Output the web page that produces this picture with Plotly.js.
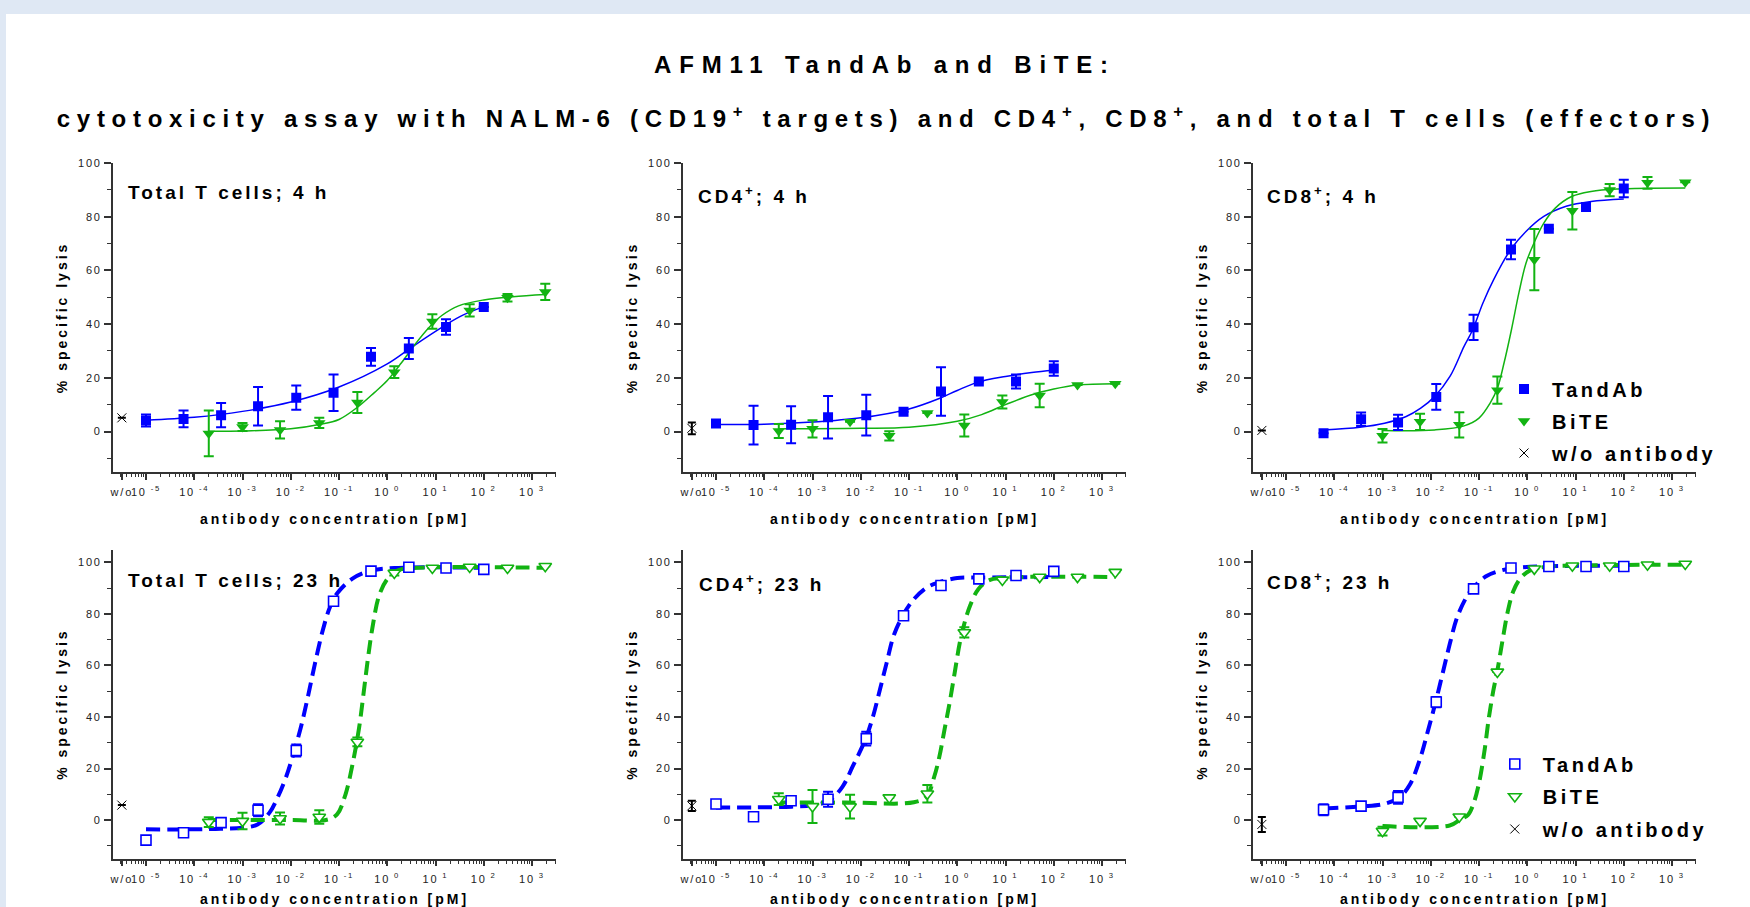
<!DOCTYPE html>
<html><head><meta charset="utf-8">
<script src="https://cdn.plot.ly/plotly-3.0.1.min.js"></script>
<style>
html,body{margin:0;padding:0;background:#fff;}
#chart{width:1750px;height:907px;}
.gtitle{letter-spacing:7.8px;}
.annotation-text{letter-spacing:3px;}
.annotation[data-index="0"] .annotation-text{letter-spacing:6.7px;}
.legendtext,.legend2text{letter-spacing:3.5px;}
g[class$="tick"] text{letter-spacing:1.8px;}
text[class$="title"]:not(.gtitle){letter-spacing:3px;}
</style></head>
<body><div id="chart"></div>
<script>
// ---------------- data ----------------
const concTandAb = [1e-5, 6e-5, 3.6e-4, 2.1e-3, 0.013, 0.077, 0.46, 2.8, 16.5, 100];
const concBiTE = [2e-4, 1e-3, 6e-3, 0.039, 0.24, 1.4, 8.6, 51, 310, 1880];
const concTandAbCD8 = [6e-5, 3.6e-4, 2.1e-3, 0.013, 0.077, 0.46, 2.8, 16.5, 100];
const concBiTECD8 = [1e-3, 6e-3, 0.039, 0.24, 1.4, 8.6, 51, 310, 1880];
const concWo = [3.16e-6];

const xTickVals = [3.16e-6, 1e-5, 1e-4, 1e-3, 1e-2, 1e-1, 1, 10, 100, 1000];
const xTickText = ['w/o', '10<sup> -5</sup>', '10<sup> -4</sup>', '10<sup> -3</sup>', '10<sup> -2</sup>', '10<sup> -1</sup>', '10<sup> 0</sup>', '10<sup> 1</sup>', '10<sup> 2</sup>', '10<sup> 3</sup>'];
const yTickVals = [0, 20, 40, 60, 80, 100];
const yMinorVals = [-10, 10, 30, 50, 70, 90];

const panelLabels = ['Total T cells; 4 h', 'CD4<sup>+</sup>; 4 h', 'CD8<sup>+</sup>; 4 h',
                     'Total T cells; 23 h', 'CD4<sup>+</sup>; 23 h', 'CD8<sup>+</sup>; 23 h'];
const seriesNames = ['TandAb', 'BiTE', 'w/o antibody'];

// Total T cells, 4 h
const tot4TandAb = [4.1, 4.7, 6.1, 9.4, 12.6, 14.4, 27.8, 30.9, 38.9, 46.4];
const tot4TandAbErr = [2.2, 3.1, 4.5, 7.2, 4.5, 6.8, 3.3, 3.9, 2.9, 0];
const tot4BiTE = [-0.7, 1.7, 0.6, 3.2, 10.8, 22.1, 41.0, 45.1, 49.8, 52.0];
const tot4BiTEErr = [8.5, 1.5, 3.2, 1.9, 3.9, 2.2, 2.7, 2.3, 1.4, 3.0];
const tot4Wo = [5.1], tot4WoErr = [0];
const tot4TandAbFitX = [1e-5, 1e-4, 1e-3, 1e-2, 0.1, 1, 3.2, 10, 32, 100];
const tot4TandAbFitY = [4.2, 5.3, 7.5, 11.0, 16.6, 25.2, 31.4, 37.3, 42.8, 46.5];
const tot4BiTEFitX = [2e-4, 1e-3, 1e-2, 0.039, 0.1, 0.24, 0.54, 1, 1.95, 3.7, 7.1, 13.5, 30, 100, 400, 1880];
const tot4BiTEFitY = [0.1, 0.2, 1.0, 2.6, 4.5, 9.0, 14.5, 19.0, 25.5, 32.3, 38.5, 43.2, 46.8, 49.0, 50.2, 51.0];

// CD4+, 4 h
const cd4h4TandAb = [3.0, 2.4, 2.5, 5.3, 6.1, 7.4, 14.9, 18.6, 18.6, 23.5];
const cd4h4TandAbErr = [0, 7.2, 6.9, 7.9, 7.6, 0, 9.0, 0, 2.6, 2.7];
const cd4h4BiTE = [0.2, 1.0, 3.6, -1.6, 6.9, 2.2, 11.0, 13.4, 17.3, 17.8];
const cd4h4BiTEErr = [2.6, 3.2, 0, 1.7, 0, 4.1, 2.4, 4.4, 0, 0];
const cd4h4Wo = [1.2], cd4h4WoErr = [2.2];
const cd4h4TandAbFitX = [1e-5, 1e-4, 1e-3, 1e-2, 0.1, 0.45, 1, 2.7, 10, 35, 100];
const cd4h4TandAbFitY = [2.6, 2.7, 3.5, 5.1, 8.4, 12.5, 15.3, 18.4, 20.5, 22.0, 22.8];
const cd4h4BiTEFitX = [2e-4, 1e-3, 1e-2, 0.1, 1, 3.2, 10, 35, 100, 310, 1880];
const cd4h4BiTEFitY = [1.0, 1.0, 1.2, 1.6, 3.8, 6.3, 10.0, 13.7, 15.8, 17.3, 17.8];

// CD8+, 4 h
const cd8h4TandAb = [-0.6, 4.6, 3.4, 12.9, 38.8, 67.8, 75.5, 83.6, 90.5];
const cd8h4TandAbErr = [0, 2.5, 2.8, 4.8, 4.7, 3.6, 0, 0, 3.3];
const cd8h4BiTE = [-1.6, 3.6, 2.5, 15.4, 64.0, 82.2, 89.9, 92.6, 92.8];
const cd8h4BiTEErr = [2.5, 3.0, 4.7, 5.1, 11.4, 7.0, 2.3, 2.2, 0];
const cd8h4Wo = [0.4], cd8h4WoErr = [0];
const cd8h4TandAbFitX = [6e-5, 3.4e-4, 1.1e-3, 3.1e-3, 6.2e-3, 0.012, 0.025, 0.049, 0.074, 0.12, 0.2, 0.45, 0.94, 2.2, 6.4, 21, 100];
const cd8h4TandAbFitY = [0.6, 1.6, 3.1, 5.6, 8.7, 13.0, 20.5, 31.7, 37.9, 47.8, 56.5, 67.7, 74.5, 80.1, 83.9, 85.7, 86.6];
const cd8h4BiTEFitX = [1e-3, 0.012, 0.049, 0.1, 0.17, 0.24, 0.33, 0.47, 0.67, 0.94, 1.4, 2.2, 3.8, 8.5, 21, 72, 1880];
const cd8h4BiTEFitY = [0.4, 0.6, 2.1, 5.0, 10.6, 16.1, 25.5, 37.9, 51.6, 62.7, 70.5, 77.6, 83.2, 87.6, 89.4, 90.3, 90.7];

// Total T cells, 23 h
const tot23TandAb = [-7.8, -4.9, -1.0, 3.8, 27.0, 84.9, 96.6, 98.1, 97.8, 97.3];
const tot23TandAbErr = [1.6, 0, 0, 2.3, 2.3, 0, 0, 0, 0, 0];
const tot23BiTE = [-0.8, -0.4, 0.6, 1.2, 30.3, 95.9, 97.8, 98.2, 97.8, 98.5];
const tot23BiTEErr = [1.9, 3.2, 2.3, 2.6, 1.7, 1.0, 0, 0, 0, 0];
const tot23Wo = [5.8], tot23WoErr = [0];
const tot23TandAbFitX = [1e-5, 1e-4, 3.5e-4, 1e-3, 2.05e-3, 3.6e-3, 5.5e-3, 8.1e-3, 0.0115, 0.0167, 0.0231, 0.0318, 0.0461, 0.065, 0.091, 0.19, 0.42, 1.4, 100];
const tot23TandAbFitY = [-3.6, -3.6, -3.4, -3.0, -1.7, 2.8, 9.3, 17.0, 26.0, 37.0, 48.6, 60.8, 73.7, 82.7, 87.9, 93.7, 96.6, 97.8, 97.9];
const tot23BiTEFitX = [2e-4, 1e-3, 0.01, 0.056, 0.091, 0.136, 0.19, 0.26, 0.32, 0.39, 0.49, 0.68, 1.02, 1.66, 3.2, 1880];
const tot23BiTEFitY = [0, 0, 0, 0.1, 2.2, 9.9, 21.5, 35.7, 48.6, 61.5, 74.4, 87.2, 93.7, 96.9, 97.8, 97.9];

// CD4+, 23 h
const cd4h23TandAb = [6.2, 1.3, 7.5, 8.1, 31.6, 79.3, 91.0, 93.6, 94.9, 96.5];
const cd4h23TandAbErr = [1.0, 0, 0, 2.9, 2.7, 0, 0, 0, 0, 0];
const cd4h23BiTE = [8.1, 5.3, 5.2, 8.7, 10.2, 72.8, 93.2, 94.3, 94.3, 96.2];
const cd4h23BiTEErr = [2.3, 6.4, 4.6, 0, 3.4, 2.0, 0, 0, 0, 0];
const cd4h23Wo = [5.5], cd4h23WoErr = [2.0];
const cd4h23TandAbFitX = [1e-5, 6e-5, 3.7e-4, 9.7e-4, 2.2e-3, 4.2e-3, 6.8e-3, 0.0124, 0.018, 0.025, 0.0345, 0.048, 0.073, 0.127, 0.24, 0.43, 1.0, 3.2, 100];
const cd4h23TandAbFitY = [4.9, 4.9, 5.2, 5.7, 7.5, 13.0, 20.8, 31.2, 40.3, 50.7, 61.1, 71.5, 79.1, 85.8, 90.4, 92.3, 93.9, 94.1, 94.3];
const cd4h23BiTEFitX = [2e-4, 4.9e-3, 0.126, 0.23, 0.334, 0.427, 0.544, 0.694, 0.885, 1.13, 1.39, 1.84, 2.75, 4.49, 8.6, 1880];
const cd4h23BiTEFitY = [6.8, 6.8, 6.9, 9.1, 16.9, 24.7, 35.1, 45.5, 57.2, 68.9, 76.0, 83.2, 89.7, 93.0, 94.0, 94.3];

// CD8+, 23 h
const cd8h23TandAb = [4.0, 5.4, 8.8, 45.8, 89.7, 97.8, 98.4, 98.4, 98.4];
const cd8h23TandAbErr = [2.1, 0, 2.5, 2.0, 0, 0, 0, 0, 0];
const cd8h23BiTE = [-4.3, -0.4, 1.3, 57.5, 97.5, 98.7, 98.7, 99.1, 99.4];
const cd8h23BiTEErr = [1.7, 0, 0, 0, 0, 0, 0, 0, 0];
const cd8h23Wo = [-1.7], cd8h23WoErr = [2.9];
const cd8h23TandAbFitX = [6.2e-5, 3.8e-4, 1.1e-3, 2.2e-3, 3.7e-3, 6.1e-3, 8.7e-3, 0.0125, 0.0174, 0.0246, 0.0348, 0.0537, 0.0735, 0.14, 0.28, 0.79, 100];
const cd8h23TandAbFitY = [4.5, 5.3, 6.3, 8.7, 13.8, 24.2, 34.5, 45.5, 56.5, 68.1, 78.4, 86.2, 89.8, 94.6, 96.8, 98.1, 98.7];
const cd8h23BiTEFitX = [1e-3, 0.0246, 0.0414, 0.0586, 0.076, 0.0986, 0.128, 0.16, 0.197, 0.239, 0.305, 0.395, 0.513, 0.726, 1.12, 2.24, 12.7, 1880];
const cd8h23BiTEFitY = [-2.3, -2.1, 0.3, 1.9, 6.1, 13.8, 26.1, 39.7, 50.0, 57.8, 69.4, 81.0, 88.8, 93.9, 96.8, 98.2, 98.8, 99.1];

// ---------------- styling ----------------
const W = 1750, H = 907;
const px = v => v / W, py = v => 1 - v / H;
const FONT = 'Liberation Sans, Arial, Helvetica, sans-serif';
const BLUE = '#0000ff', GREEN = '#12b312', AXC = '#333333';

const panels = [
  {tx: concTandAb, ty: tot4TandAb, te: tot4TandAbErr, bx: concBiTE, by: tot4BiTE, be: tot4BiTEErr, wo: tot4Wo, woe: tot4WoErr,
   tfx: tot4TandAbFitX, tfy: tot4TandAbFitY, bfx: tot4BiTEFitX, bfy: tot4BiTEFitY},
  {tx: concTandAb, ty: cd4h4TandAb, te: cd4h4TandAbErr, bx: concBiTE, by: cd4h4BiTE, be: cd4h4BiTEErr, wo: cd4h4Wo, woe: cd4h4WoErr,
   tfx: cd4h4TandAbFitX, tfy: cd4h4TandAbFitY, bfx: cd4h4BiTEFitX, bfy: cd4h4BiTEFitY},
  {tx: concTandAbCD8, ty: cd8h4TandAb, te: cd8h4TandAbErr, bx: concBiTECD8, by: cd8h4BiTE, be: cd8h4BiTEErr, wo: cd8h4Wo, woe: cd8h4WoErr,
   tfx: cd8h4TandAbFitX, tfy: cd8h4TandAbFitY, bfx: cd8h4BiTEFitX, bfy: cd8h4BiTEFitY, legend: 'legend'},
  {tx: concTandAb, ty: tot23TandAb, te: tot23TandAbErr, bx: concBiTE, by: tot23BiTE, be: tot23BiTEErr, wo: tot23Wo, woe: tot23WoErr,
   tfx: tot23TandAbFitX, tfy: tot23TandAbFitY, bfx: tot23BiTEFitX, bfy: tot23BiTEFitY},
  {tx: concTandAb, ty: cd4h23TandAb, te: cd4h23TandAbErr, bx: concBiTE, by: cd4h23BiTE, be: cd4h23BiTEErr, wo: cd4h23Wo, woe: cd4h23WoErr,
   tfx: cd4h23TandAbFitX, tfy: cd4h23TandAbFitY, bfx: cd4h23BiTEFitX, bfy: cd4h23BiTEFitY},
  {tx: concTandAbCD8, ty: cd8h23TandAb, te: cd8h23TandAbErr, bx: concBiTECD8, by: cd8h23BiTE, be: cd8h23BiTEErr, wo: cd8h23Wo, woe: cd8h23WoErr,
   tfx: cd8h23TandAbFitX, tfy: cd8h23TandAbFitY, bfx: cd8h23BiTEFitX, bfy: cd8h23BiTEFitY, legend: 'legend2'}
];

const colX = [112.7, 682.7, 1252.7];
const plotW = 443.7;
const rowY = [[471.8, 163.0], [858.7, 549.5]];
const rowRange = [[-15, 100], [-15, 105]];
const labelPos = [[126, 192.5], [696, 194.7], [1264.7, 194.7], [126, 580.5], [697, 582.5], [1264.7, 580.5]];

const minorX = [];
for (let e = -6; e <= 3; e++) for (let m = 2; m <= 9; m++) minorX.push(m * Math.pow(10, e));

const legendFont = {family: FONT, size: 20, color: '#000', weight: 'bold'};
const traces = [];
const layout = {
  width: W, height: H,
  margin: {l: 0, r: 0, t: 0, b: 0},
  paper_bgcolor: '#ffffff', plot_bgcolor: 'rgba(0,0,0,0)',
  font: {family: FONT, color: '#000'},
  showlegend: true,
  title: {text: 'AFM11 TandAb and BiTE:', x: px(885), xanchor: 'center', xref: 'paper',
          y: py(64.7), yanchor: 'middle', yref: 'paper',
          font: {family: FONT, size: 24, color: '#000', weight: 'bold'}},
  shapes: [
    {type: 'rect', xref: 'paper', yref: 'paper', x0: 0, x1: 1, y0: py(14), y1: 1, fillcolor: '#dfe8f4', line: {width: 0}, layer: 'below'},
    {type: 'rect', xref: 'paper', yref: 'paper', x0: 0, x1: px(6), y0: 0, y1: 1, fillcolor: '#dfe8f4', line: {width: 0}, layer: 'below'}
  ],
  annotations: [
    {text: 'cytotoxicity assay with NALM-6 (CD19<sup>+</sup> targets) and CD4<sup>+</sup>, CD8<sup>+</sup>, and total T cells (effectors)',
     xref: 'paper', yref: 'paper', x: px(886), y: py(117.3), xanchor: 'center', yanchor: 'middle', showarrow: false,
     font: {family: FONT, size: 24, color: '#000', weight: 'bold'}}
  ],
  legend: {x: px(1496), y: py(369.5), xanchor: 'left', yanchor: 'top', bgcolor: 'rgba(0,0,0,0)',
           font: legendFont, traceorder: 'grouped', tracegroupgap: 3, itemwidth: 46},
  legend2: {x: px(1486.8), y: py(744.5), xanchor: 'left', yanchor: 'top', bgcolor: 'rgba(0,0,0,0)',
           font: legendFont, traceorder: 'grouped', tracegroupgap: 3.5, itemwidth: 46}
};

panels.forEach((p, i) => {
  const r = Math.floor(i / 3), c = i % 3;
  const sfx = i === 0 ? '' : String(i + 1);
  const xa = 'x' + sfx, ya = 'y' + sfx;
  const late = r === 1;
  layout['xaxis' + sfx] = {
    type: 'log', range: [-5.69, 3.505], domain: [px(colX[c]), px(colX[c] + plotW)], anchor: ya,
    tickmode: 'array', tickvals: xTickVals, ticktext: xTickText,
    ticks: 'outside', ticklen: 6, tickwidth: 1.5, tickcolor: AXC, ticklabelstandoff: 3,
    showline: true, linecolor: AXC, linewidth: 1.5, showgrid: false, zeroline: false,
    tickfont: {family: FONT, size: 11, color: '#222'},
    minor: {tickmode: 'array', tickvals: minorX, ticks: 'outside', ticklen: 3.5, tickwidth: 1, tickcolor: AXC, showgrid: false},
    title: {text: 'antibody concentration [pM]', font: {family: FONT, size: 14, color: '#000', weight: 'bold'}, standoff: 17},
    fixedrange: true
  };
  layout['yaxis' + sfx] = {
    range: rowRange[r], domain: [py(rowY[r][0]), py(rowY[r][1])], anchor: xa,
    tickmode: 'array', tickvals: yTickVals,
    ticks: 'outside', ticklen: 7, tickwidth: 1.5, tickcolor: AXC,
    showline: true, linecolor: AXC, linewidth: 1.5, showgrid: false, zeroline: false,
    tickfont: {family: FONT, size: 11, color: '#222'},
    minor: {tickmode: 'array', tickvals: yMinorVals, ticks: 'outside', ticklen: 4, tickwidth: 1, tickcolor: AXC, showgrid: false},
    title: {text: '% specific lysis', font: {family: FONT, size: 14, color: '#000', weight: 'bold'}, standoff: 7},
    fixedrange: true
  };
  layout.annotations.push({text: panelLabels[i], xref: 'paper', yref: 'paper', x: px(labelPos[i][0]), y: py(labelPos[i][1]),
    xanchor: 'left', yanchor: 'middle', align: 'left', showarrow: false,
    font: {family: FONT, size: 19, color: '#000', weight: 'bold'}});

  const lineStyle = col => late ? {color: col, width: 4, dash: '14px,7px', shape: 'spline', smoothing: 1}
                                : {color: col, width: 1.5, shape: 'spline', smoothing: 1};
  traces.push({x: p.tfx, y: p.tfy, xaxis: xa, yaxis: ya, mode: 'lines', line: lineStyle(BLUE), showlegend: false, hoverinfo: 'skip'});
  traces.push({x: p.bfx, y: p.bfy, xaxis: xa, yaxis: ya, mode: 'lines', line: lineStyle(GREEN), showlegend: false, hoverinfo: 'skip'});

  const leg = p.legend;
  const tMarker = late ? {symbol: 'square', size: 10, color: '#fff', line: {color: BLUE, width: 1.6}}
                       : {symbol: 'square', size: 10, color: BLUE, line: {width: 0}};
  const bMarker = late ? {symbol: 'triangle-down', size: 11, color: '#fff', line: {color: GREEN, width: 1.6}}
                       : {symbol: 'triangle-down', size: 11, color: GREEN, line: {width: 0}};
  traces.push({x: p.tx, y: p.ty, xaxis: xa, yaxis: ya, mode: 'markers', name: seriesNames[0], marker: tMarker,
    error_y: {type: 'data', array: p.te, visible: true, color: BLUE, thickness: 2, width: 5},
    showlegend: !!leg, legend: leg || 'legend', legendgroup: 'g0_' + i});
  traces.push({x: p.bx, y: p.by, xaxis: xa, yaxis: ya, mode: 'markers', name: seriesNames[1], marker: bMarker,
    error_y: {type: 'data', array: p.be, visible: true, color: GREEN, thickness: 2, width: 5},
    showlegend: !!leg, legend: leg || 'legend', legendgroup: 'g1_' + i});
  traces.push({x: concWo, y: p.wo, xaxis: xa, yaxis: ya, mode: 'markers', name: seriesNames[2],
    marker: {symbol: 'x-thin', size: 9, color: '#000', line: {color: '#000', width: 1}},
    error_y: {type: 'data', array: p.woe, visible: true, color: '#000', thickness: 2, width: 4},
    showlegend: !!leg, legend: leg || 'legend', legendgroup: 'g2_' + i});
});

Plotly.newPlot('chart', traces, layout, {displayModeBar: false, responsive: false});
</script></body></html>
